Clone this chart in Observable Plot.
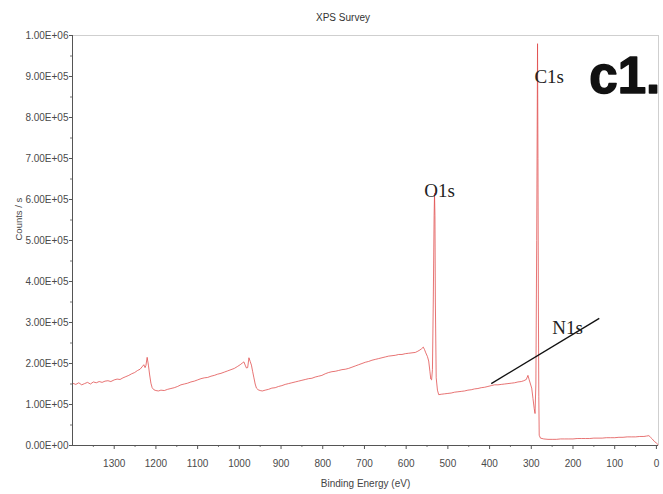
<!DOCTYPE html>
<html>
<head>
<meta charset="utf-8">
<script src="https://cdn.jsdelivr.net/npm/d3@7"></script>
<script src="https://cdn.jsdelivr.net/npm/@observablehq/plot@0.6"></script>
<style>
  html, body { margin: 0; padding: 0; background: #fff; }
  #title { height: 26px; box-sizing: border-box; padding-top: 12px; padding-left: 23px; text-align: center;
           font: 10px "Liberation Sans", Arial, sans-serif; line-height: 12px; color: #333; width: 663px; }
  #chart svg { display: block; }
</style>
</head>
<body>
<div id="title">XPS Survey</div>
<div id="chart"></div>
<script>
// Binding energy (eV) and intensity (counts/s)
const energy = [1400,1392,1385,1378,1371,1364,1357,1350,1343,1336,1329,1322,1315,1308,1300,1293,1286,1279,1272,1265,1258,1251,1244,1238,1233,1229,1226,1224,1221,1218,1215,1212,1209,1205,1200,1194,
  1188,1180,1172,1164,1156,1148,1140,1132,1124,1116,1108,1100,1092,1084,1076,1068,1060,1052,1044,1036,1028,1020,1012,1004,998,993,989,986,983,980,977,974,971,968,965,962,959,955,950,945,
  938,930,922,914,906,898,890,882,874,866,858,850,842,834,826,818,810,802,794,786,778,770,762,754,746,738,730,722,714,706,698,690,682,674,666,658,650,642,634,626,618,610,602,594,586,578,572,567,563,559,556,553,549,546,543,541,539,537,535,533,532,531,530,528,525,522,
  516,508,500,492,484,476,468,460,452,444,436,428,420,412,404,396,388,380,372,364,356,348,340,332,324,318,312,308,305,302,299,296,293,291,289,287,285,284,283,282,281,278,270,260,250,240,230,220,210,200,190,180,170,160,150,140,130,120,110,100,90,80,70,60,50,40,30,24,18,14,10,5,0,-4];
const counts = [152,149,153,148,151,154,150,155,153,156,154,157,158,156,160,162,161,165,168,171,175,178,183,186,192,197,190,195,215,196,172,152,141,136,134,133,
  135,134,137,139,141,144,148,150,152,155,157,160,163,165,166,169,171,174,176,179,182,185,188,193,197,201,204,196,189,190,214,205,196,180,165,150,140,136,134,133,
  135,137,140,141,144,146,149,151,153,155,157,159,161,163,164,167,169,171,175,178,180,181,183,185,186,188,191,194,197,200,203,205,208,210,212,214,216,218,219,220,222,222,224,225,226,227,230,233,236,240,234,226,217,206,180,162,160,185,350,560,615,560,350,165,135,124,
  125,126,127,128,130,131,132,133,135,136,138,139,141,142,144,146,148,148,149,150,151,152,153,155,156,158,161,171,160,150,140,115,90,78,150,500,980,700,350,120,25,18,16,15,15,15,16,16,16,16,17,17,17,17,18,18,18,19,19,19,20,20,21,21,21,22,22,23,24,20,16,10,6,2].map(v => v * 1000);

const xTicks = [0,100,200,300,400,500,600,700,800,900,1000,1100,1200,1300];
const xMinorTicks = [50,150,250,350,450,550,650,750,850,950,1050,1150,1250,1350];
const yTicks = [0,100000,200000,300000,400000,500000,600000,700000,800000,900000,1000000];
const yMinorTicks = [50000,150000,250000,350000,450000,550000,650000,750000,850000,950000];

// Peak labels (energy, counts)
const peakNames = ["C1s", "O1s", "N1s"];
const peakEnergy = [257, 520, 213];
const peakCounts = [898000, 622000, 288000];
// N1s pointer line
const pointerEnergy = [396, 137];
const pointerCounts = [151000, 310000];
// panel tag
const tagText = ["c1."];
const tagEnergy = [161];
const tagCounts = [900000];

const spectrum = energy.map((e, i) => ({e, c: counts[i]}));
const peaks = peakNames.map((n, i) => ({n, e: peakEnergy[i], c: peakCounts[i]}));
const pointer = [{x1: pointerEnergy[0], y1: pointerCounts[0], x2: pointerEnergy[1], y2: pointerCounts[1]}];
const tags = tagText.map((t, i) => ({t, e: tagEnergy[i], c: tagCounts[i]}));

const fmt = d => {
  if (d === 0) return "0.00E+00";
  const e = Math.floor(Math.log10(d) + 1e-9);
  const m = d / Math.pow(10, e);
  return m.toFixed(2) + "E+" + String(e).padStart(2, "0");
};

const chart = Plot.plot({
  width: 663, height: 468,
  marginTop: 9, marginBottom: 49, marginLeft: 72, marginRight: 5,
  style: {fontFamily: "'Liberation Sans', Arial, sans-serif", fontSize: "10px", color: "#4a4a4a", background: "#fff"},
  x: {domain: [1400, -5]},
  y: {domain: [0, 1000000]},
  marks: [
    Plot.ruleY([1000000], {stroke: "#cfcfcf"}),
    Plot.ruleX([-5], {stroke: "#cfcfcf"}),
    Plot.line(spectrum, {x: "e", y: "c", stroke: "#e04848", strokeWidth: 0.9, strokeOpacity: 0.85}),
    Plot.link(pointer, {x1: "x1", y1: "y1", x2: "x2", y2: "y2", stroke: "#111", strokeWidth: 1.3}),
    Plot.text(peaks, {x: "e", y: "c", text: "n", fontFamily: "'Liberation Serif', 'Times New Roman', serif", fontSize: 19, fill: "#222"}),
    Plot.text(tags, {x: "e", y: "c", text: "t", textAnchor: "start", fontFamily: "'Liberation Sans', Arial, sans-serif", fontWeight: "bold", fontSize: 51, fill: "#111", stroke: "#111", strokeWidth: 1.5}),
    Plot.axisX({ticks: xTicks, tickSize: 4, tickPadding: 10, tickFormat: d => String(d), label: null, stroke: "#555"}),
    Plot.axisX({ticks: xMinorTicks, tickSize: 2, text: null, label: null, stroke: "#777"}),
    Plot.axisY({ticks: yTicks, tickSize: 3, tickPadding: 1, tickFormat: fmt, label: null, stroke: "#555"}),
    Plot.axisY({ticks: yMinorTicks, tickSize: 2, text: null, label: null, stroke: "#777"}),
    Plot.ruleX([1400], {stroke: "#555"}),
    Plot.ruleY([0], {stroke: "#555"}),
    Plot.text(["Counts / s"], {frameAnchor: "left", rotate: -90, dx: -54, fontSize: 9.5, fill: "#444"}),
    Plot.text(["Binding Energy (eV)"], {frameAnchor: "bottom", dy: 41, fontSize: 10, fill: "#444"})
  ]
});
document.getElementById("chart").appendChild(chart);
</script>
</body>
</html>
